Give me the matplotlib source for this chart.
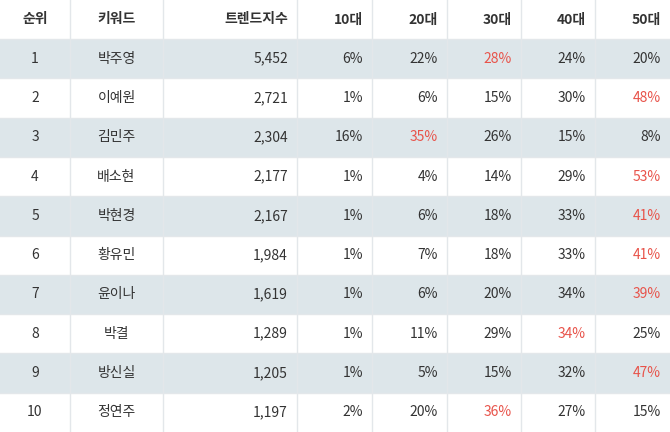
import matplotlib
matplotlib.use("Agg")
import matplotlib.pyplot as plt
from matplotlib.patches import Rectangle

plt.rcParams["font.family"] = ["Noto Sans CJK KR", "Noto Sans CJK JP", "Noto Sans CJK SC", "DejaVu Sans"]

headers = ["순위", "키워드", "트렌드지수", "10대", "20대", "30대", "40대", "50대"]
ranks = [1, 2, 3, 4, 5, 6, 7, 8, 9, 10]
keywords = ["박주영", "이예원", "김민주", "배소현", "박현경", "황유민", "윤이나", "박결", "방신실", "정연주"]
trend = [5452, 2721, 2304, 2177, 2167, 1984, 1619, 1289, 1205, 1197]
age10 = [6, 1, 16, 1, 1, 1, 1, 1, 1, 2]
age20 = [22, 6, 35, 4, 6, 7, 6, 11, 5, 20]
age30 = [28, 15, 26, 14, 18, 18, 20, 29, 15, 36]
age40 = [24, 30, 15, 29, 33, 33, 34, 34, 32, 27]
age50 = [20, 48, 8, 53, 41, 41, 39, 25, 47, 15]

W, H = 670, 432
fig = plt.figure(figsize=(W / 100, H / 100), dpi=100)
ax = fig.add_axes([0, 0, 1, 1])
ax.set_xlim(0, W)
ax.set_ylim(H, 0)
ax.axis("off")

edges = [0, 70, 163, 297, 372, 447, 521, 595, 670]
hh = 39
rh = (H - hh) / len(ranks)
txt = "#333333"
red = "#e8534a"
grid = "#e3e7ea"
pad = 9

for i, h in enumerate(headers):
    if i < 2:
        x, ha = (edges[i] + edges[i + 1]) / 2, "center"
    else:
        x, ha = edges[i + 1] - pad, "right"
    ax.text(x, hh / 2, h, ha=ha, va="center", fontsize=10, fontweight="bold", color=txt)

ages = [age10, age20, age30, age40, age50]
for r in range(len(ranks)):
    y0 = hh + r * rh
    if r % 2 == 0:
        ax.add_patch(Rectangle((0, y0), W, rh, facecolor="#dde6ea", edgecolor="none", zorder=0))
    ax.plot([0, W], [y0, y0], color=grid, lw=1, zorder=1)
    yc = y0 + rh / 2
    ax.text(35, yc, str(ranks[r]), ha="center", va="center", fontsize=10, color=txt)
    ax.text((edges[1] + edges[2]) / 2, yc, keywords[r], ha="center", va="center", fontsize=10, color=txt)
    ax.text(edges[3] - pad, yc, f"{trend[r]:,}", ha="right", va="center", fontsize=10, color=txt)
    vals = [a[r] for a in ages]
    mx = max(vals)
    for j, v in enumerate(vals):
        c = red if (v == mx and j > 0) else txt
        ax.text(edges[4 + j] - pad, yc, f"{v}%", ha="right", va="center", fontsize=10, color=c)

for x in edges[1:-1]:
    ax.plot([x, x], [0, H], color=grid, lw=1, zorder=1)

fig.savefig("out.png", dpi=100)
